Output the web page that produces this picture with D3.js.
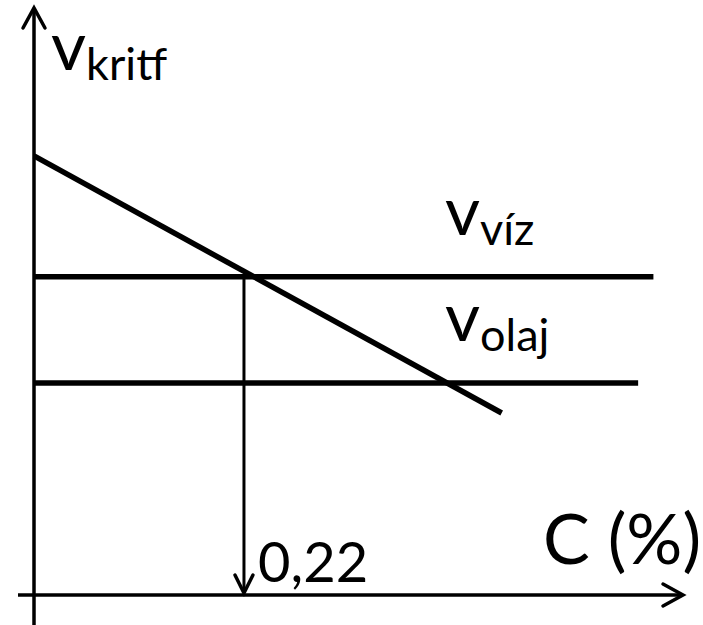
<!DOCTYPE html>
<html>
<head>
<meta charset="utf-8">
<script src="https://cdn.jsdelivr.net/npm/d3@7"></script>
<style>
  body { margin: 0; background: #fff; }
  text { font-family: Lato, "Open Sans", sans-serif; fill: #000; }
</style>
</head>
<body>
<div id="chart"></div>
<script>
// chart data (schematic: C in %, v in arbitrary units)
var xDomain = [0, 0.68];
var yDomain = [0, 100];
var critC = 0.22;
var critLabel = "0,22";
var xAxisLabel = "C (%)";

// critical speed falls with C
var vKrit = [{c: 0, v: 74.8}, {c: 0.49, v: 31.0}];
// horizontal levels
var levels = [
  {name: "víz", v: 54.2, cEnd: 0.649},
  {name: "olaj", v: 36.1, cEnd: 0.633}
];

var width = 703, height = 625;
var svg = d3.select("#chart").append("svg")
  .attr("width", width)
  .attr("height", height);

var x = d3.scaleLinear().domain(xDomain).range([34, 683]);
var y = d3.scaleLinear().domain(yDomain).range([595, 8]);

// axes
svg.append("line")
  .attr("x1", x(0)).attr("x2", x(0))
  .attr("y1", y(yDomain[1])).attr("y2", height)
  .attr("stroke", "#000").attr("stroke-width", 3.5);
svg.append("line")
  .attr("x1", x(0) - 16).attr("x2", x(xDomain[1]))
  .attr("y1", y(0)).attr("y2", y(0))
  .attr("stroke", "#000").attr("stroke-width", 3.5);

// arrow heads (open chevrons)
function chevron(tx, ty, dir) {
  var a = 20, b = 11, p;
  if (dir == "up") p = [[tx - b, ty + a], [tx, ty], [tx + b, ty + a]];
  else if (dir == "right") p = [[tx - a, ty - b], [tx, ty], [tx - a, ty + b]];
  else p = [[tx - 9, ty - 18], [tx, ty], [tx + 9, ty - 18]];
  svg.append("path")
    .attr("d", d3.line()(p))
    .attr("fill", "none").attr("stroke", "#000")
    .attr("stroke-width", 3.5)
    .attr("stroke-linecap", "round").attr("stroke-linejoin", "miter");
}
chevron(x(0), y(yDomain[1]), "up");
chevron(x(xDomain[1]), y(0), "right");

// level lines
svg.selectAll(".level")
  .data(levels)
  .enter()
  .append("line")
  .attr("class", "level")
  .attr("x1", x(0)).attr("x2", function(d) { return x(d.cEnd); })
  .attr("y1", function(d) { return y(d.v); })
  .attr("y2", function(d) { return y(d.v); })
  .attr("stroke", "#000").attr("stroke-width", 5.5);

// critical speed line
svg.append("path")
  .datum(vKrit)
  .attr("d", d3.line().x(function(d) { return x(d.c); }).y(function(d) { return y(d.v); }))
  .attr("fill", "none").attr("stroke", "#000").attr("stroke-width", 5.5);

// drop line at the critical concentration
svg.append("line")
  .attr("x1", x(critC)).attr("x2", x(critC))
  .attr("y1", y(levels[0].v)).attr("y2", y(0) - 2)
  .attr("stroke", "#000").attr("stroke-width", 3);
chevron(x(critC), y(0) - 2, "down");

// labels
var yl = svg.append("text").attr("x", 51).attr("y", 70).attr("font-size", 68);
yl.append("tspan").attr("font-size", 68).text("v");
yl.append("tspan").attr("font-size", 45).attr("dy", 10).text("krit");
yl.append("tspan").attr("font-size", 45).attr("dy", 10).text("f");

svg.selectAll(".lvlLabel")
  .data(levels)
  .enter()
  .append("text")
  .attr("class", "lvlLabel")
  .attr("x", 445)
  .attr("y", function(d) { return y(d.v) - 42; })
  .attr("font-size", 68)
  .each(function(d) {
    var t = d3.select(this);
    t.append("tspan").attr("font-size", 68).text("v");
    t.append("tspan").attr("font-size", 45).attr("dy", 10).text(d.name);
  });

svg.append("text")
  .attr("x", x(critC) + 14).attr("y", y(0) - 13)
  .attr("font-size", 56)
  .text(critLabel);

svg.append("text")
  .attr("x", 543).attr("y", 564)
  .attr("font-size", 70)
  .text(xAxisLabel);
</script>
</body>
</html>
